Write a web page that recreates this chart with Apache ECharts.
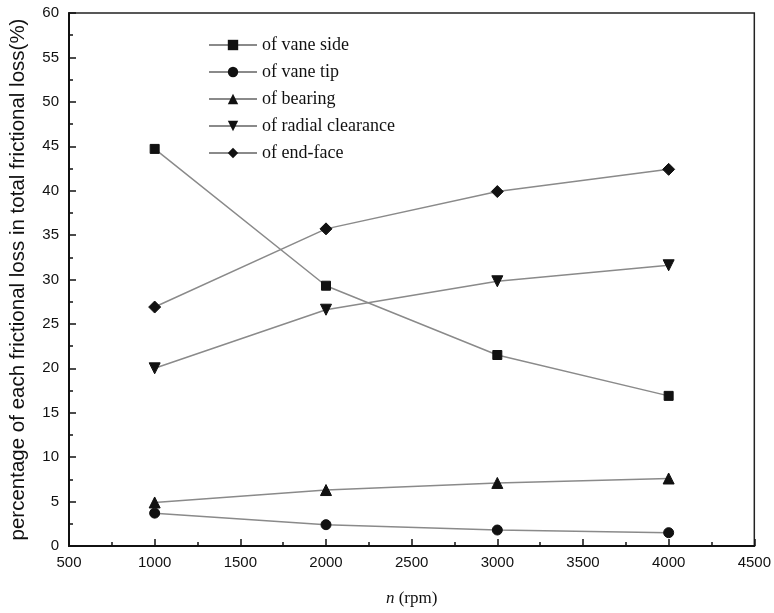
<!DOCTYPE html>
<html><head><meta charset="utf-8">
<script src="https://cdn.jsdelivr.net/npm/echarts@6/dist/echarts.min.js"></script>
<style>html,body{margin:0;padding:0;background:#fff}#c{width:774px;height:613px}</style>
</head><body><div id="c"></div>
<script>
const rpm = [1000, 2000, 3000, 4000];
const vaneSide = [44.7, 29.3, 21.5, 16.9];
const vaneTip = [3.7, 2.4, 1.8, 1.5];
const bearing = [4.9, 6.3, 7.1, 7.6];
const radialClearance = [20.0, 26.6, 29.8, 31.6];
const endFace = [26.9, 35.7, 39.9, 42.4];
const seriesNames = ['of vane side', 'of vane tip', 'of bearing', 'of radial clearance', 'of end-face'];
const seriesData = [vaneSide, vaneTip, bearing, radialClearance, endFace];
const symbols = ['rect', 'circle', 'triangle', 'path://M0,0 L10,0 L5,9 Z', 'diamond'];
const symbolSizes = [9, 10, 11, 11, 12];

const chart = echarts.init(document.getElementById('c'));
const tickFont = {fontFamily: 'Liberation Sans, Arial, sans-serif', fontSize: 15, color: '#111'};
chart.setOption({
  animation: false,
  backgroundColor: '#fff',
  grid: {left: 68, right: 18, top: 13, bottom: 67, show: true, borderColor: '#222', borderWidth: 1.5, backgroundColor: 'transparent'},
  legend: {
    orient: 'vertical', left: 203, top: 31, itemGap: 9, itemWidth: 48, itemHeight: 13,
    textStyle: {fontFamily: 'Liberation Serif, Times New Roman, serif', fontSize: 18, color: '#111'},
    data: seriesNames
  },
  xAxis: {
    type: 'value', min: 500, max: 4500, interval: 500,
    name: '{i|n} (rpm)', nameLocation: 'middle', nameGap: 44,
    nameTextStyle: {fontFamily: 'Liberation Serif, serif', fontSize: 17, color: '#111',
      rich: {i: {fontStyle: 'italic', fontFamily: 'Liberation Serif, serif', fontSize: 17, color: '#111'}}},
    axisLine: {show: true, lineStyle: {color: '#111', width: 2}},
    axisTick: {show: true, inside: true, length: 7, lineStyle: {color: '#111', width: 1.5}},
    minorTick: {show: true, splitNumber: 2, length: 4, lineStyle: {color: '#111', width: 1.5}},
    axisLabel: Object.assign({margin: 9, formatter: v => String(v)}, tickFont),
    splitLine: {show: false}
  },
  yAxis: {
    type: 'value', min: 0, max: 60, interval: 5,
    name: 'percentage of each frictional loss in total frictional loss(%)', nameLocation: 'middle', nameGap: 40,
    nameTextStyle: {fontFamily: 'Liberation Sans, Arial, sans-serif', fontSize: 20.5, color: '#111'},
    axisLine: {show: true, lineStyle: {color: '#111', width: 2}},
    axisTick: {show: true, inside: true, length: 7, lineStyle: {color: '#111', width: 1.5}},
    minorTick: {show: true, splitNumber: 2, length: 4, lineStyle: {color: '#111', width: 1.5}},
    axisLabel: Object.assign({margin: 10, formatter: v => String(v)}, tickFont),
    splitLine: {show: false}
  },
  series: seriesNames.map((n, i) => ({
    name: n, type: 'line',
    data: rpm.map((x, j) => [x, seriesData[i][j]]),
    symbol: symbols[i], symbolSize: symbolSizes[i], showAllSymbol: true,
    lineStyle: {color: '#8a8a8a', width: 1.5},
    itemStyle: {color: '#111', borderColor: '#111'},
    z: 3
  }))
});
</script></body></html>
